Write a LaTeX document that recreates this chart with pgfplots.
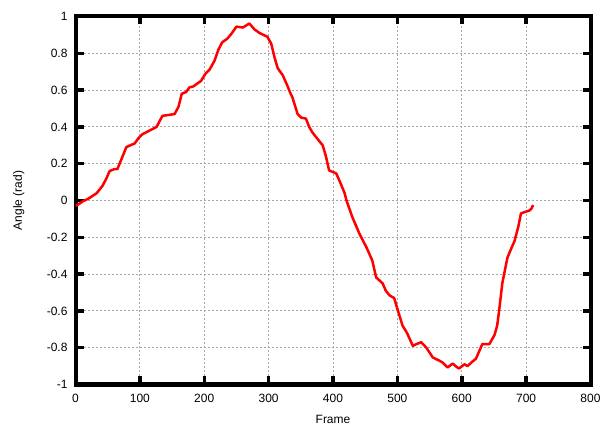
\documentclass[border=0pt]{standalone}
\usepackage{fontspec}
\setmainfont{Liberation Sans}
\usepackage{pgfplots}
\pgfplotsset{compat=1.18}

\pgfplotstableread{
frame angle
0 -0.03
5 -0.02
11 -0.005
20 0.01
33 0.04
42 0.08
48 0.12
53 0.16
60 0.17
65 0.17
72 0.23
79 0.29
85 0.30
92 0.31
98 0.34
104 0.36
115 0.38
126 0.40
132 0.44
135 0.46
145 0.465
154 0.47
160 0.51
165 0.58
172 0.59
177 0.615
183 0.62
189 0.635
195 0.65
202 0.69
208 0.71
216 0.76
222 0.82
228 0.86
236 0.88
243 0.91
250 0.945
260 0.94
270 0.962
278 0.93
286 0.91
298 0.89
304 0.853
309 0.78
314 0.72
322 0.68
329 0.625
333 0.59
337 0.56
345 0.47
351 0.45
358 0.445
363 0.40
368 0.37
377 0.33
384 0.30
389 0.24
394 0.163
400 0.155
405 0.147
411 0.10
418 0.04
421 0.00
430 -0.09
441 -0.18
452 -0.255
461 -0.326
467 -0.418
477 -0.45
482 -0.49
488 -0.516
495 -0.53
501 -0.60
508 -0.68
515 -0.72
524 -0.79
530 -0.78
537 -0.77
545 -0.80
555 -0.853
565 -0.87
570 -0.88
578 -0.907
586 -0.886
592 -0.905
596 -0.913
604 -0.89
609 -0.90
615 -0.88
622 -0.86
632 -0.78
643 -0.78
651 -0.73
655 -0.68
658 -0.60
663 -0.45
671 -0.31
677 -0.26
682 -0.22
688 -0.14
692 -0.07
700 -0.06
705 -0.055
708 -0.045
711 -0.025
}\angledata

\begin{document}
\begin{tikzpicture}
\useasboundingbox (0,0) rectangle (608bp,432bp);
\begin{axis}[
    at={(75.5bp,47.5bp)}, anchor=south west,
    scale only axis,
    width=515bp, height=368bp,
    xmin=0, xmax=800, ymin=-1, ymax=1,
    xtick={0,100,...,800},
    ytick={-1,-0.8,...,1.01},
    font=\fontsize{12bp}{14bp}\selectfont,
    /pgf/number format/assume math mode=true,
    yticklabel style={/pgf/number format/fixed, xshift=-4.5bp},
    xticklabel style={yshift=-6bp},
    xlabel={Frame},
    ylabel={Angle (rad)},
    xlabel style={at={(axis description cs:0.5,-0.094)}, anchor=center},
    ylabel style={at={(axis description cs:-0.110,0.5)}, anchor=center},
    grid=major,
    major grid style={dash pattern=on 2bp off 2bp, gray!70, line width=0.8bp},
    axis line style={line width=4bp, black},
    tick align=inside,
    major tick length=8bp,
    major tick style={line width=3.5bp, black},
]
\addplot[red, line width=2.5bp, line join=round] table[x=frame, y=angle] {\angledata};
\end{axis}
\end{tikzpicture}
\end{document}
